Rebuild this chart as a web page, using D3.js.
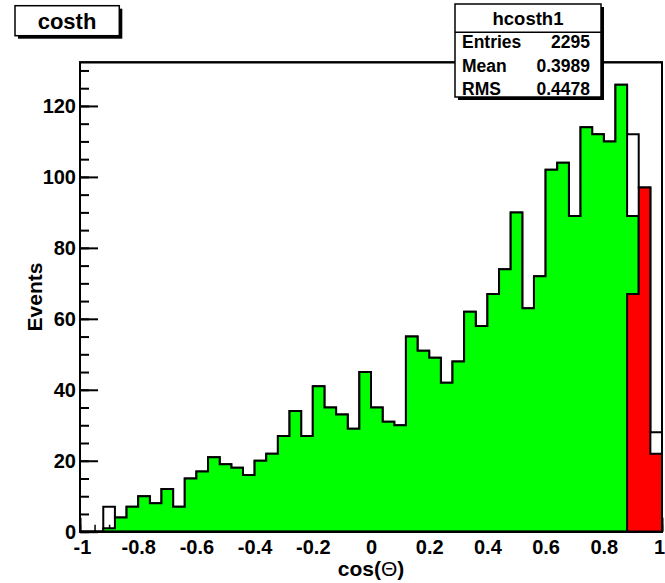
<!DOCTYPE html>
<html>
<head>
<meta charset="utf-8">
<script src="https://cdn.jsdelivr.net/npm/d3@7"></script>
<style>
body { margin: 0; background: #fff; }
text { font-family: "Liberation Sans", Arial, Helvetica, sans-serif; font-weight: bold; fill: #000; }
</style>
</head>
<body>
<div id="chart"></div>
<script>
// histogram: 50 bins of width 0.04 on [-1, 1]
var nBins = 50;
var binEdges = d3.range(nBins + 1).map(function(i) { return -1 + i * 0.04; });

// all entries (hcosth1), drawn hollow
var totalCounts = [0, 0, 7, 4, 7, 10, 8, 12, 7, 15,
                   17, 21, 19, 18, 16, 20, 22, 27, 34, 27,
                   41, 35, 33, 29, 45, 35, 31, 30, 55, 51,
                   49, 42, 48, 62, 58, 67, 74, 90, 63, 72,
                   102, 104, 89, 114, 112, 110, 126, 112, 97, 28];
// green selection
var greenCounts = [0, 0, 1, 4, 7, 10, 8, 12, 7, 15,
                   17, 21, 19, 18, 16, 20, 22, 27, 34, 27,
                   41, 35, 33, 29, 45, 35, 31, 30, 55, 51,
                   49, 42, 48, 62, 58, 67, 74, 90, 63, 72,
                   102, 104, 89, 114, 112, 110, 126, 89, 0, 0];
// red selection
var redCounts = [0, 0, 0, 0, 0, 0, 0, 0, 0, 0,
                 0, 0, 0, 0, 0, 0, 0, 0, 0, 0,
                 0, 0, 0, 0, 0, 0, 0, 0, 0, 0,
                 0, 0, 0, 0, 0, 0, 0, 0, 0, 0,
                 0, 0, 0, 0, 0, 0, 0, 67, 97, 22];

var xTickValues = [-1, -0.8, -0.6, -0.4, -0.2, 0, 0.2, 0.4, 0.6, 0.8, 1];
var yTickValues = [0, 20, 40, 60, 80, 100, 120];

var statsLabels = ["Entries", "Mean", "RMS"];
var statsValues = ["2295", "0.3989", "0.4478"];

var W = 665, H = 583;
var padL = 80, padR = 662, padT = 62.3, padB = 531.7;
var yMax = 126 * 1.05;

var svg = d3.select("#chart").append("svg")
    .attr("width", W)
    .attr("height", H);

svg.append("rect").attr("width", W).attr("height", H).attr("fill", "#fff");

var x = d3.scaleLinear().domain([-1, 1]).range([padL, padR]);
var y = d3.scaleLinear().domain([0, yMax]).range([padB, padT]);

// frame
svg.append("rect")
    .attr("x", padL).attr("y", padT)
    .attr("width", padR - padL).attr("height", padB - padT)
    .attr("fill", "#fff").attr("stroke", "#000").attr("stroke-width", 2);

// x axis ticks (pointing up into the frame)
var xMinor = d3.range(-1, 1.0001, 0.05);
svg.append("g")
    .attr("transform", "translate(0," + padB + ")")
    .call(d3.axisBottom(x).tickValues(xMinor).tickSize(-7).tickFormat(""))
    .call(function(g) { g.select(".domain").remove(); g.selectAll("line").attr("stroke-width", 1.5); });

var xAxis = svg.append("g")
    .attr("transform", "translate(0," + padB + ")")
    .call(d3.axisBottom(x).tickValues(xTickValues).tickSize(-14).tickPadding(8)
        .tickFormat(function(d) { return String(d); }));
xAxis.select(".domain").remove();
xAxis.selectAll("line").attr("stroke-width", 2);
xAxis.selectAll("text").attr("font-size", 20).attr("font-family", null)
    .attr("dx", function(d) { return d === 1 ? -3 : (d === -1 ? 2 : 0); });

// y axis ticks
var yMinor = d3.range(0, 131, 5);
svg.append("g")
    .attr("transform", "translate(" + padL + ",0)")
    .call(d3.axisLeft(y).tickValues(yMinor).tickSize(-9).tickFormat(""))
    .call(function(g) { g.select(".domain").remove(); g.selectAll("line").attr("stroke-width", 2); });

var yAxis = svg.append("g")
    .attr("transform", "translate(" + padL + ",0)")
    .call(d3.axisLeft(y).tickValues(yTickValues).tickSize(-18).tickPadding(4));
yAxis.select(".domain").remove();
yAxis.selectAll("line").attr("stroke-width", 2);
yAxis.selectAll("text").attr("font-size", 20).attr("font-family", null);

// histogram outline as a closed step path
function histPath(counts) {
    var pts = [[binEdges[0], 0]];
    counts.forEach(function(c, i) {
        pts.push([binEdges[i], c]);
        pts.push([binEdges[i + 1], c]);
    });
    pts.push([binEdges[nBins], 0]);
    return d3.line().x(function(p) { return x(p[0]); }).y(function(p) { return y(p[1]); })(pts) + "Z";
}

svg.append("path").attr("d", histPath(totalCounts))
    .attr("fill", "none").attr("stroke", "#000").attr("stroke-width", 2);
svg.append("path").attr("d", histPath(greenCounts))
    .attr("fill", "#00ff00").attr("stroke", "#000").attr("stroke-width", 2);
svg.append("path").attr("d", histPath(redCounts))
    .attr("fill", "#ff0000").attr("stroke", "#000").attr("stroke-width", 2);

// frame edges on top
svg.append("rect")
    .attr("x", padL).attr("y", padT)
    .attr("width", padR - padL).attr("height", padB - padT)
    .attr("fill", "none").attr("stroke", "#000").attr("stroke-width", 2);

// axis titles
var xTitle = svg.append("text")
    .attr("x", (padL + padR) / 2).attr("y", 576)
    .attr("text-anchor", "middle").attr("font-size", 21);
xTitle.append("tspan").text("cos(");
xTitle.append("tspan").attr("font-weight", "normal").text("Θ");
xTitle.append("tspan").text(")");

svg.append("text")
    .attr("transform", "translate(42," + ((padT + padB) / 2) + ") rotate(-90)")
    .attr("text-anchor", "middle").attr("font-size", 21)
    .text("Events");

// title box
svg.append("rect").attr("x", 18).attr("y", 8.7).attr("width", 104.3).attr("height", 30).attr("fill", "#000");
svg.append("rect").attr("x", 15).attr("y", 5.7).attr("width", 104.3).attr("height", 30)
    .attr("fill", "#fff").attr("stroke", "#000").attr("stroke-width", 1.5);
svg.append("text").attr("x", 67).attr("y", 29).attr("text-anchor", "middle")
    .attr("font-size", 22).text("costh");

// stats box
var sx = 455, sy = 4, sw = 146, sh = 93;
svg.append("rect").attr("x", sx + 3).attr("y", sy + 3).attr("width", sw).attr("height", sh).attr("fill", "#000");
svg.append("rect").attr("x", sx).attr("y", sy).attr("width", sw).attr("height", sh)
    .attr("fill", "#fff").attr("stroke", "#000").attr("stroke-width", 1.5);
svg.append("line").attr("x1", sx).attr("x2", sx + sw).attr("y1", 32.3).attr("y2", 32.3)
    .attr("stroke", "#000").attr("stroke-width", 1.5);
svg.append("text").attr("x", sx + sw / 2).attr("y", 25).attr("text-anchor", "middle")
    .attr("font-size", 18.5).text("hcosth1");

statsLabels.forEach(function(lab, i) {
    var by = 48.3 + i * 23.3;
    svg.append("text").attr("x", 462).attr("y", by).attr("font-size", 17.5).text(lab);
    svg.append("text").attr("x", 590).attr("y", by).attr("text-anchor", "end")
        .attr("font-size", 17.5).text(statsValues[i]);
});
</script>
</body>
</html>
